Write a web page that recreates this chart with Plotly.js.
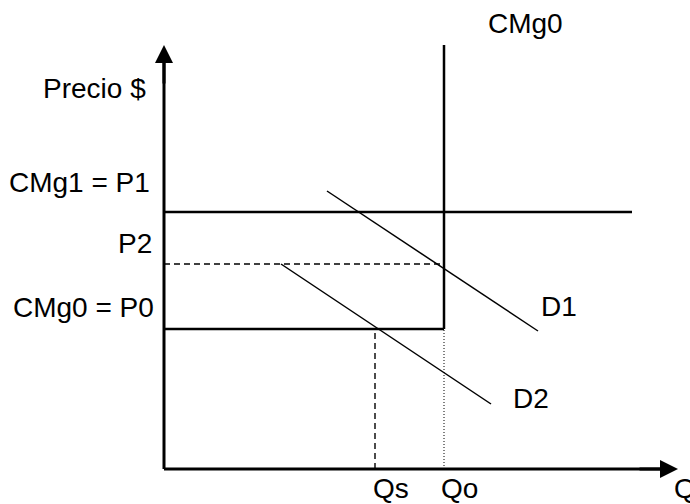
<!DOCTYPE html>
<html>
<head>
<meta charset="utf-8">
<script src="https://cdn.plot.ly/plotly-3.0.1.min.js"></script>
<style>html,body{margin:0;padding:0;background:#fff;}#chart{width:690px;height:504px;}</style>
</head>
<body>
<div id="chart"></div>
<script>
// Price levels (arbitrary units above the Q axis)
const P0 = 140;   // CMg0 = P0
const P1 = 257;   // CMg1 = P1
const P2 = 205;   // P2
// Quantities
const Qs = 211;
const Qo = 280;
// Demand curves (quantity, price)
const D1_q = [163, 374];
const D1_p = [278, 138];
const D2_q = [117, 327];
const D2_p = [205, 65];
// Extents of the drawn lines
const qAxisEnd = 514;
const pAxisEnd = 424;
const P1End = 468;
const CMg0Top = 424;
// Labels
const priceLabels = ["CMg1 = P1", "P2", "CMg0 = P0"];
const qtyLabels = ["Qs", "Qo", "Q"];

const black = "#000";
function seg(x, y, w, dash) {
  return {x: x, y: y, type: "scatter", mode: "lines", hoverinfo: "skip", showlegend: false,
          line: {color: black, width: w, dash: dash || "solid"}};
}

const traces = [
  seg([0, P1End], [P1, P1], 2.5),
  seg([Qo, Qo], [P0, CMg0Top], 2.5),
  seg([0, Qo], [P0, P0], 2.5),
  seg([0, Qo], [P2, P2], 1.4, "6px,4px"),
  seg([Qs, Qs], [0, P0], 1.4, "6px,4px"),
  seg([Qo, Qo], [0, P0], 1, "1px,2px"),
  seg(D1_q, D1_p, 1.5),
  seg(D2_q, D2_p, 1.5),
  seg([0, qAxisEnd - 12], [0, 0], 3),
  seg([0, 0], [0, pAxisEnd - 12], 3)
];

const font = {family: "Liberation Sans, Arial, sans-serif", size: 28, color: black};
function label(text, x, y, xa) {
  return {text: text, x: x, y: y, xref: "x", yref: "y", showarrow: false,
          xanchor: xa, yanchor: "middle", font: font};
}

const annotations = [
  label("Precio $", -16, 380.5, "right"),
  label(priceLabels[0], -12, 286.5, "right"),
  label(priceLabels[1], -10, 225.5, "right"),
  label(priceLabels[2], -8, 161.5, "right"),
  label("CMg0", 322, 445.5, "left"),
  label("D1", 375, 162.5, "left"),
  label("D2", 347, 70.5, "left"),
  label(qtyLabels[0], 207, -19.5, "left"),
  label(qtyLabels[1], 275, -19.5, "left"),
  label(qtyLabels[2], 508, -19.5, "left"),
  {text: "", x: qAxisEnd, y: 0, ax: qAxisEnd - 40, ay: 0, xref: "x", yref: "y", axref: "x", ayref: "y",
   showarrow: true, arrowhead: 2, arrowwidth: 3, arrowsize: 1.2, arrowcolor: black},
  {text: "", x: 0, y: pAxisEnd, ax: 0, ay: pAxisEnd - 40, xref: "x", yref: "y", axref: "x", ayref: "y",
   showarrow: true, arrowhead: 2, arrowwidth: 3, arrowsize: 1.2, arrowcolor: black}
];

const layout = {
  width: 690, height: 504,
  margin: {l: 0, r: 0, t: 0, b: 0, pad: 0},
  paper_bgcolor: "#fff", plot_bgcolor: "#fff",
  xaxis: {range: [-164, 526], visible: false, fixedrange: true},
  yaxis: {range: [-35, 469], visible: false, fixedrange: true},
  annotations: annotations,
  showlegend: false
};

Plotly.newPlot("chart", traces, layout, {staticPlot: true, displayModeBar: false});
</script>
</body>
</html>
